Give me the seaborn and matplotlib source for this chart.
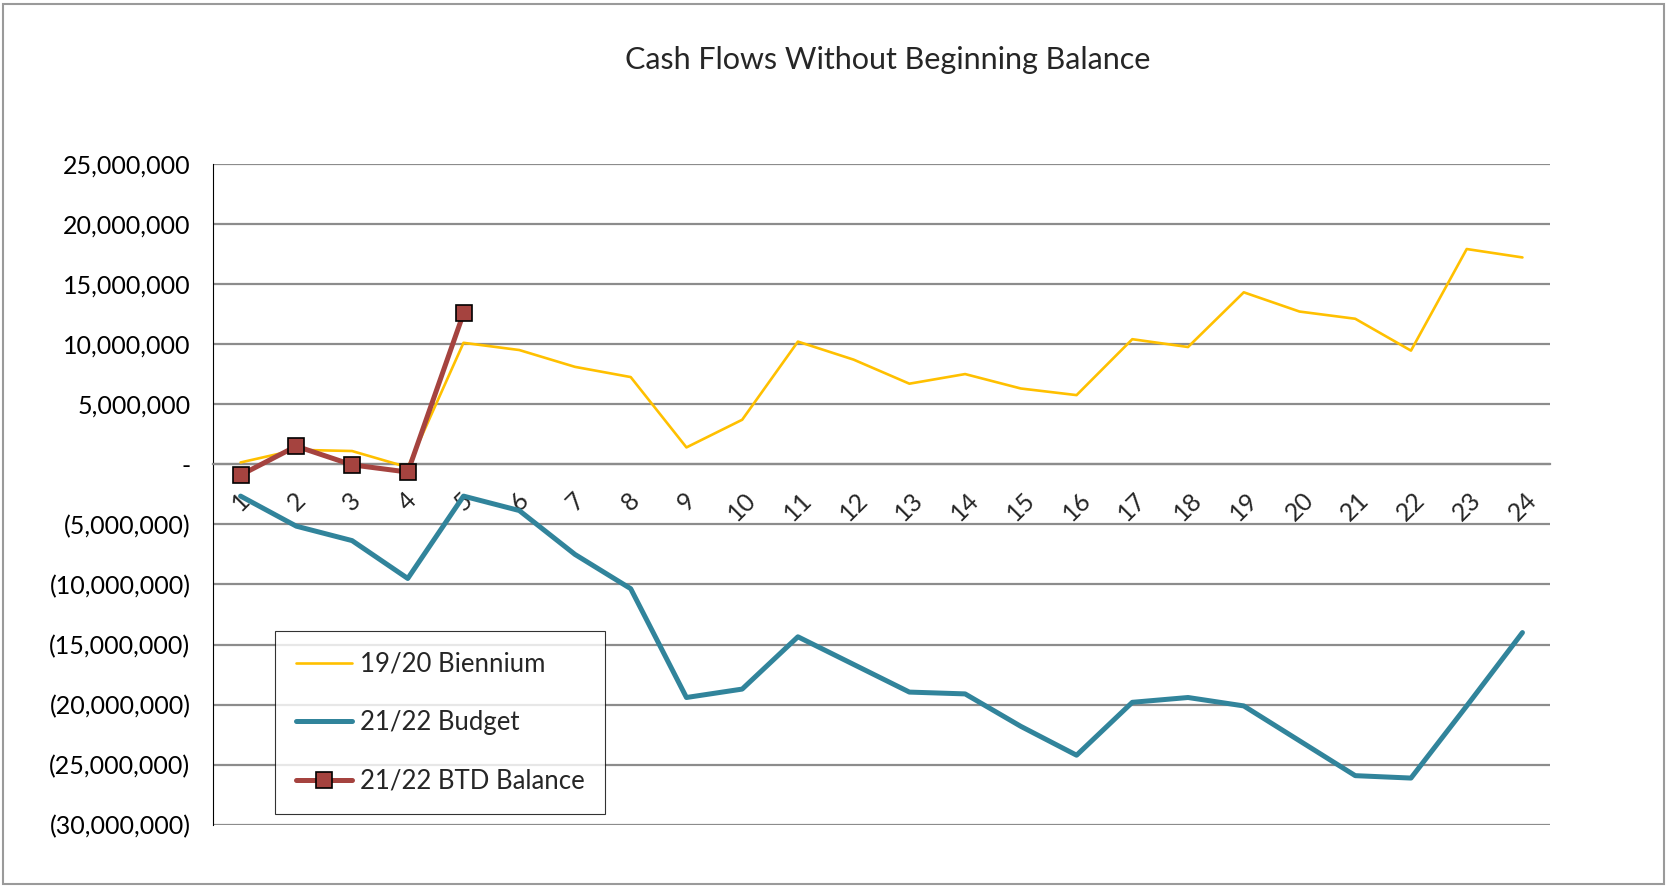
import numpy as np
import pandas as pd
import seaborn as sns
import matplotlib.pyplot as plt
from matplotlib.patches import Rectangle
from matplotlib.ticker import FixedLocator, FuncFormatter

sns.set_style("white")
plt.rcParams['font.family'] = ['Lato', 'DejaVu Sans']

months = list(range(1, 25))

biennium_1920 = [0.15, 1.2, 1.1, -0.25, 10.1, 9.5, 8.1, 7.25, 1.4, 3.7, 10.2, 8.7,
                 6.7, 7.5, 6.3, 5.75, 10.4, 9.75, 14.3, 12.7, 12.1, 9.45, 17.9, 17.2]
budget_2122 = [-2.65, -5.15, -6.35, -9.5, -2.65, -3.85, -7.5, -10.35, -19.4, -18.7, -14.35, -16.65,
               -18.95, -19.1, -21.8, -24.2, -19.8, -19.4, -20.1, -23.0, -25.9, -26.1, -20.1, -14.0]
btd_months = [1, 2, 3, 4, 5]
btd_balance_2122 = [-0.9, 1.5, -0.05, -0.65, 12.55]

df_main = pd.DataFrame({
    "month": months,
    "biennium": np.array(biennium_1920) * 1e6,
    "budget": np.array(budget_2122) * 1e6,
})
df_btd = pd.DataFrame({"month": btd_months, "btd": np.array(btd_balance_2122) * 1e6})

fig = plt.figure(figsize=(16.67, 8.88), dpi=100)
ax = fig.add_axes([0.1276, 0.071, 0.8024, 0.7447])

# gridlines
yticks = np.arange(-30e6, 25e6 + 1, 5e6)
for yv in yticks:
    ax.axhline(yv, color="#8c8c8c", lw=1.6, zorder=0)

sns.lineplot(data=df_main, x="month", y="biennium", ax=ax, color="#FFC000", lw=1.9,
             label="19/20 Biennium", zorder=3)
sns.lineplot(data=df_main, x="month", y="budget", ax=ax, color="#31849B", lw=3.6,
             label="21/22 Budget", zorder=3)
sns.lineplot(data=df_btd, x="month", y="btd", ax=ax, color="#A5433F", lw=3.6,
             marker="s", markersize=11, markeredgecolor="black", markeredgewidth=1.2,
             label="21/22 BTD Balance", zorder=4)

ax.set_xlim(0.5, 24.5)
ax.set_ylim(-30e6, 25e6)
ax.set_yticks(yticks)


def money(v, pos):
    if abs(v) < 1:
        return "-"
    if v < 0:
        return f"({abs(v):,.0f})"
    return f"{v:,.0f}"


ax.yaxis.set_major_formatter(FuncFormatter(money))
ax.tick_params(axis="y", labelsize=18, length=0, pad=16, labelcolor="black")

# x axis sits at zero with ticks between categories
for s in ["top", "right"]:
    ax.spines[s].set_visible(False)
ax.spines["bottom"].set_position(("data", 0))
ax.spines["bottom"].set_color("#8c8c8c")
ax.spines["bottom"].set_linewidth(1.6)
ax.spines["left"].set_color("black")
ax.spines["left"].set_linewidth(0.8)

ax.xaxis.set_major_locator(FixedLocator(months))
ax.set_xticklabels([str(m) for m in months], rotation=45, ha="center", va="top")
ax.xaxis.set_minor_locator(FixedLocator(np.arange(1.5, 24.6, 1)))
ax.tick_params(axis="x", which="major", length=0, labelsize=18, pad=17)
ax.tick_params(axis="x", which="minor", length=9, width=1.2, color="#666666", direction="out")
ax.set_xlabel("")
ax.set_ylabel("")

fig.text(0.5325, 0.932, "Cash Flows Without Beginning Balance", fontsize=22,
         ha="center", va="center")

leg = ax.legend(loc="lower left", bbox_to_anchor=(0.165, 0.083), bbox_transform=fig.transFigure,
                fontsize=18.5, frameon=True, fancybox=False, edgecolor="black",
                labelspacing=1.3, handlelength=2.2, handletextpad=0.3, borderpad=0.8,
                borderaxespad=0)
leg.get_frame().set_linewidth(0.8)

fig.patches.append(Rectangle((0.002, 0.004), 0.996, 0.992, transform=fig.transFigure,
                             fill=False, edgecolor="#9a9a9a", lw=1.5))

fig.savefig("out.png", dpi=100)
plt.close(fig)
